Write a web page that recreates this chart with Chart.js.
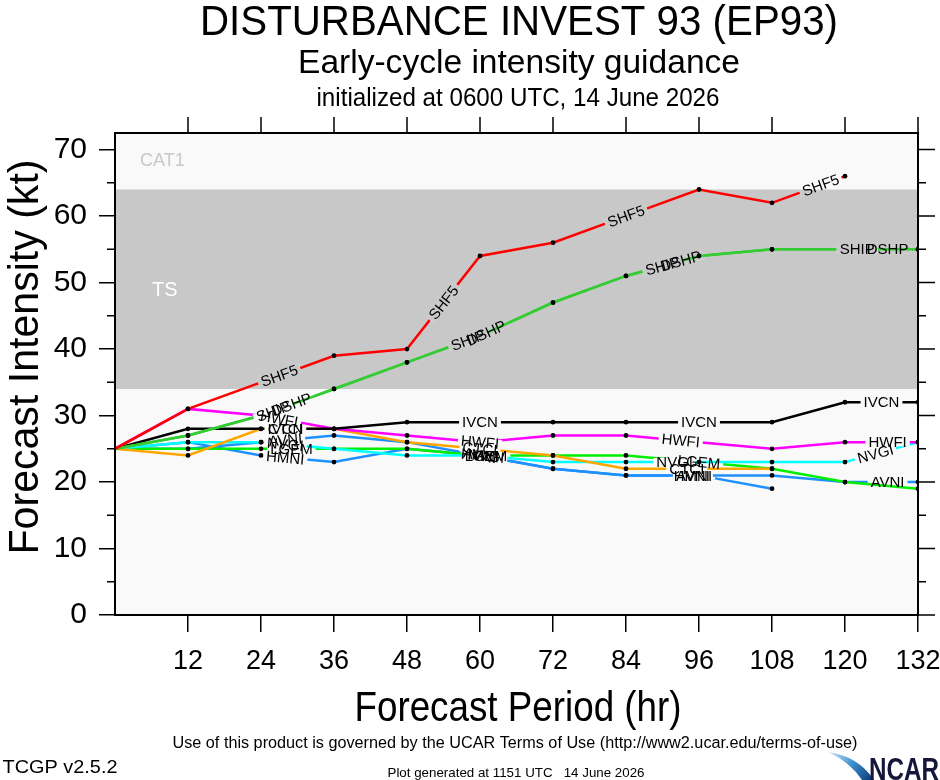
<!DOCTYPE html>
<html>
<head>
<meta charset="utf-8">
<script src="https://cdn.jsdelivr.net/npm/chart.js@4.4.1/dist/chart.umd.min.js"></script>
<style>
  html,body{margin:0;padding:0;background:#fff;}
  #wrap{width:940px;height:780px;position:relative;}
</style>
</head>
<body>
<div id="wrap"><canvas id="c" width="940" height="780"></canvas></div>
<script>
// ---------------- data ----------------
const HOURS = [0, 12, 24, 36, 48, 60, 72, 84, 96, 108, 120, 132];
const X_TICKS = [12, 24, 36, 48, 60, 72, 84, 96, 108, 120, 132];
const Y_TICKS = [0, 10, 20, 30, 40, 50, 60, 70];

const SHF5 = [25, 31, 35, 39, 40, 54, 56, 60, 64, 62, 66, null];
const SHIP = [25, 27, 30, 34, 38, 42, 47, 51, 54, 55, 55, 55];
const DSHP = [25, 27, 30, 34, 38, 42, 47, 51, 54, 55, 55, 55];
const IVCN = [25, 28, 28, 28, 29, 29, 29, 29, 29, 29, 32, 32];
const HWFI = [25, 31, 30, 28, 27, 26, 27, 27, 26, 25, 26, 26];
const CTCI = [25, 24, 28, 28, 26, 25, 24, 22, 22, 22, null, null];
const LGEM = [25, 25, 25, 25, 25, 24, 24, 24, 23, 22, 20, 19];
const NVGI = [25, 26, 26, 25, 24, 24, 23, 23, 23, 23, 23, 26];
const AVNI = [25, 25, 26, 27, 26, 24, 22, 21, 21, 21, 20, 20];
const HMNI = [25, 26, 24, 23, 25, 24, 22, 21, 21, 19, null, null];

const TS_RANGE = [34, 64];

// ---------------- styles ----------------
const FAM = "'Liberation Sans Narrow','Liberation Sans',Arial,Helvetica,sans-serif";
const LFAM = "'Liberation Sans',Arial,Helvetica,sans-serif";
const PLOT_BG = '#f9f9f9';
const BAND_BG = '#c8c8c8';

const SERIES = [
  {name:'SHF5', values:SHF5, color:'#ff0000', labelAt:[27,54,84,116]},
  {name:'SHIP', values:SHIP, color:'#33cc33', labelAt:[26,58,90,122]},
  {name:'DSHP', values:DSHP, color:'#33cc33', labelAt:[29,61,93,127]},
  {name:'IVCN', values:IVCN, color:'#000000', labelAt:[28,60,96,126]},
  {name:'HWFI', values:HWFI, color:'#ff00ff', labelAt:[27,60,93,127]},
  {name:'CTCI', values:CTCI, color:'#ffa500', labelAt:[28,60,94]},
  {name:'NVGI', values:NVGI, color:'#00ffff', labelAt:[28,61,92,125]},
  {name:'LGEM', values:LGEM, color:'#00ee00', labelAt:[29,61,96]},
  {name:'AVNI', values:AVNI, color:'#1e90ff', labelAt:[28,60,95,127]},
  {name:'HMNI', values:HMNI, color:'#1e90ff', labelAt:[28,60,95]}
];

const datasets = SERIES.map(s => ({
  label: s.name,
  data: HOURS.map((h, i) => ({x: h, y: s.values[i]})),
  borderColor: s.color,
  borderWidth: 2.5,
  pointRadius: ctx => ctx.dataIndex === 0 ? 0 : 2.4,
  pointBackgroundColor: '#000',
  pointBorderWidth: 0,
  pointHoverRadius: 0,
  spanGaps: false,
  tension: 0,
  fill: false
}));

// helpers
function labelGeom(chart, s, h) {
  const xs = chart.scales.x, ys = chart.scales.y;
  for (let i = 0; i < HOURS.length - 1; i++) {
    const v1 = s.values[i], v2 = s.values[i + 1];
    if (v1 == null || v2 == null) continue;
    if (h >= HOURS[i] && h <= HOURS[i + 1]) {
      const t = (h - HOURS[i]) / (HOURS[i + 1] - HOURS[i]);
      const v = v1 + (v2 - v1) * t;
      const x1 = xs.getPixelForValue(HOURS[i]), y1 = ys.getPixelForValue(v1);
      const x2 = xs.getPixelForValue(HOURS[i + 1]), y2 = ys.getPixelForValue(v2);
      return {x: xs.getPixelForValue(h), y: ys.getPixelForValue(v), a: Math.atan2(y2 - y1, x2 - x1)};
    }
  }
  return null;
}

function fitText(ctx, text, cx, base, size, width, color, rot, weight) {
  ctx.save();
  ctx.font = (weight ? weight + ' ' : '') + size + 'px ' + FAM;
  const m = ctx.measureText(text).width;
  ctx.translate(cx, base);
  if (rot) ctx.rotate(rot);
  ctx.scale(width / m, 1);
  ctx.fillStyle = color || '#000';
  ctx.textAlign = 'center';
  ctx.textBaseline = 'alphabetic';
  ctx.fillText(text, 0, 0);
  ctx.restore();
}

function paintBackground(chart) {
  const ctx = chart.ctx, a = chart.chartArea, ys = chart.scales.y;
  ctx.fillStyle = PLOT_BG;
  ctx.fillRect(a.left, a.top, a.right - a.left, a.bottom - a.top);
  const yTop = ys.getPixelForValue(TS_RANGE[1]);
  const yBot = ys.getPixelForValue(TS_RANGE[0]);
  ctx.fillStyle = BAND_BG;
  ctx.fillRect(a.left, yTop, a.right - a.left, yBot - yTop);
}

const LABEL_FONT = 15;

const guidancePlugin = {
  id: 'guidance',
  beforeDraw(chart) {
    const ctx = chart.ctx;
    ctx.save();
    ctx.fillStyle = '#fff';
    ctx.fillRect(0, 0, chart.width, chart.height);
    paintBackground(chart);
    ctx.font = '18px ' + LFAM;
    ctx.fillStyle = '#c8c8c8';
    ctx.textBaseline = 'middle';
    ctx.fillText('CAT1', 140, 161);
    ctx.font = '20px ' + LFAM;
    ctx.fillStyle = '#ffffff';
    ctx.fillText('TS', 152, 290);
    ctx.restore();
  },
  afterDatasetDraw(chart, args) {
    const s = SERIES[args.index];
    const ctx = chart.ctx;
    ctx.save();
    ctx.font = LABEL_FONT + 'px ' + LFAM;
    const w = ctx.measureText(s.name).width + 6;
    s.labelAt.forEach(h => {
      const g = labelGeom(chart, s, h);
      if (!g) return;
      ctx.save();
      ctx.translate(g.x, g.y);
      ctx.rotate(g.a);
      ctx.beginPath();
      ctx.rect(-w / 2, -4, w, 8);
      ctx.setTransform(1, 0, 0, 1, 0, 0);
      ctx.clip();
      paintBackground(chart);
      ctx.restore();
    });
    ctx.restore();
  },
  afterDatasetsDraw(chart) {
    const ctx = chart.ctx, a = chart.chartArea, xs = chart.scales.x, ys = chart.scales.y;
    ctx.save();
    ctx.font = LABEL_FONT + 'px ' + LFAM;
    ctx.fillStyle = '#000';
    ctx.textAlign = 'center';
    ctx.textBaseline = 'middle';
    SERIES.forEach(s => {
      s.labelAt.forEach(h => {
        const g = labelGeom(chart, s, h);
        if (!g) return;
        ctx.save();
        ctx.translate(g.x, g.y);
        ctx.rotate(g.a);
        ctx.fillText(s.name, 0, 1);
        ctx.restore();
      });
    });
    ctx.restore();

    ctx.save();
    ctx.strokeStyle = '#000';
    ctx.lineWidth = 2;
    ctx.strokeRect(a.left, a.top, a.right - a.left, a.bottom - a.top);
    ctx.lineWidth = 1.5;
    ctx.beginPath();
    X_TICKS.forEach(h => {
      const x = xs.getPixelForValue(h);
      ctx.moveTo(x, a.top); ctx.lineTo(x, a.top - 16);
    });
    for (let v = 0; v <= 70; v += 5) {
      const y = ys.getPixelForValue(v);
      const major = v % 10 === 0;
      ctx.moveTo(a.right, y); ctx.lineTo(a.right + (major ? 17 : 8), y);
      if (!major) { ctx.moveTo(a.left, y); ctx.lineTo(a.left - 8, y); }
    }
    ctx.stroke();
    ctx.restore();
  },
  afterDraw(chart) {
    const ctx = chart.ctx;
    fitText(ctx, 'DISTURBANCE INVEST 93 (EP93)', 519, 35, 43, 638);
    fitText(ctx, 'Early-cycle intensity guidance', 519, 73, 34, 442);
    fitText(ctx, 'initialized at 0600 UTC, 14 June 2026', 518, 106, 25, 403);
    fitText(ctx, 'Forecast Intensity (kt)', 38, 357, 42, 395, '#000', -Math.PI / 2);
    fitText(ctx, 'Forecast Period (hr)', 518, 721, 42, 327);
    fitText(ctx, 'Use of this product is governed by the UCAR Terms of Use (http://www2.ucar.edu/terms-of-use)', 515, 748, 16, 685);
    fitText(ctx, 'TCGP v2.5.2', 60, 773, 19, 115);
    fitText(ctx, 'Plot generated at 1151 UTC   14 June 2026', 516, 777, 13, 257);
    // NCAR logo
    ctx.save();
    const g = ctx.createLinearGradient(830, 752, 872, 780);
    g.addColorStop(0, '#cfe6f7');
    g.addColorStop(0.5, '#3b8fd0');
    g.addColorStop(1, '#0b3a7a');
    ctx.fillStyle = g;
    ctx.beginPath();
    ctx.moveTo(828, 752);
    ctx.quadraticCurveTo(858, 756, 874, 780);
    ctx.lineTo(862, 780);
    ctx.quadraticCurveTo(850, 762, 828, 752);
    ctx.fill();
    ctx.restore();
    fitText(ctx, 'NCAR', 904, 780, 32, 70, '#15173a', 0, 'bold');
  }
};

function noPad(s) { s.paddingLeft = 0; s.paddingRight = 0; s.paddingTop = 0; s.paddingBottom = 0; }

new Chart(document.getElementById('c'), {
  type: 'line',
  data: {datasets},
  options: {
    responsive: false,
    animation: false,
    devicePixelRatio: 1,
    layout: {padding: {top: 133, right: 22, left: 0, bottom: 0}},
    plugins: {legend: {display: false}, tooltip: {enabled: false}, title: {display: false}},
    events: [],
    scales: {
      x: {
        type: 'linear', min: 0, max: 132,
        afterFit: s => { s.height = 165; noPad(s); },
        afterBuildTicks: s => { s.ticks = [0].concat(X_TICKS).map(v => ({value: v})); },
        ticks: {
          callback: v => v === 0 ? '' : String(v),
          font: {family: FAM, size: 27},
          color: '#000', padding: 13, maxRotation: 0, autoSkip: false
        },
        grid: {
          drawOnChartArea: false, drawTicks: true, tickLength: 17,
          color: c => (c.tick && c.tick.value === 0) ? 'rgba(0,0,0,0)' : '#000', lineWidth: 1.5
        },
        border: {display: true, color: '#000', width: 2}
      },
      y: {
        type: 'linear', min: 0, max: 72.5,
        afterFit: s => { s.width = 115; noPad(s); },
        afterBuildTicks: s => { s.ticks = Y_TICKS.map(v => ({value: v})); },
        ticks: {
          font: {family: FAM, size: 30},
          color: '#000', padding: 12, autoSkip: false
        },
        grid: {drawOnChartArea: false, drawTicks: true, tickLength: 16, color: '#000', lineWidth: 1.5},
        border: {display: true, color: '#000', width: 2}
      }
    }
  },
  plugins: [guidancePlugin]
});
</script>
</body>
</html>
